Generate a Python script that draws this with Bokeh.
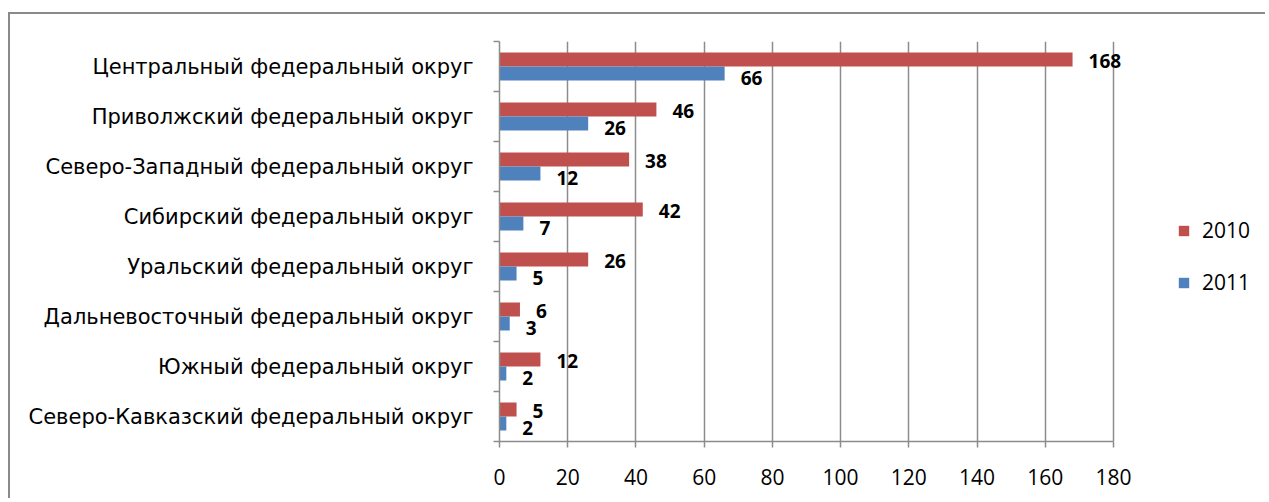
from bokeh.plotting import figure
from bokeh.models import (ColumnDataSource, Range1d, FixedTicker, Legend, LegendItem)
from bokeh.core.properties import value
from bokeh.embed import file_html
from bokeh.resources import INLINE

categories = [
    "Центральный федеральный округ",
    "Приволжский федеральный округ",
    "Северо-Западный федеральный округ",
    "Сибирский федеральный округ",
    "Уральский федеральный округ",
    "Дальневосточный федеральный округ",
    "Южный федеральный округ",
    "Северо-Кавказский федеральный округ",
]
values_2010 = [168, 46, 38, 42, 26, 6, 12, 5]
values_2011 = [66, 26, 12, 7, 5, 3, 2, 2]
series_names = ["2010", "2011"]
x_ticks = [0, 20, 40, 60, 80, 100, 120, 140, 160, 180]

RED = "#C0504D"
BLUE = "#4F81BD"
GRID = "#8c8c8c"
FONT = "Open Sans"
CAT_FONT = "DejaVu Sans"

n = len(categories)
centers = [n - i - 0.5 for i in range(n)]
bar_h = 0.28
y_red = [c + bar_h / 2 for c in centers]
y_blue = [c - bar_h / 2 for c in centers]

src_red = ColumnDataSource(dict(y=y_red, v=values_2010, t=[str(v) for v in values_2010]))
src_blue = ColumnDataSource(dict(y=y_blue, v=values_2011, t=[str(v) for v in values_2011]))

# layout (pixels)
W, H = 1257, 486
LEFT, TOP, BOTTOM = 489, 27, 59
AXIS_PX = 614                      # pixel length of the 0..180 axis
frame_w = W - LEFT
x_max = x_ticks[-1]
x_view_max = x_max * frame_w / AXIS_PX   # frame extends right so legend/labels are not clipped

p = figure(width=W, height=H, output_backend="svg", toolbar_location=None,
           x_range=Range1d(0, x_view_max), y_range=Range1d(0, n),
           min_border_left=LEFT, min_border_top=TOP, min_border_right=0,
           min_border_bottom=BOTTOM)
p.styles = {"border-top": "2px solid #8a8a8a", "border-left": "2px solid #8a8a8a",
            "margin-top": "12px", "margin-left": "8px"}
p.outline_line_color = None
p.background_fill_color = "white"
p.border_fill_color = "white"

r_red = p.hbar(y="y", right="v", left=0, height=bar_h, source=src_red,
               fill_color=RED, line_color=None)
r_blue = p.hbar(y="y", right="v", left=0, height=bar_h, source=src_blue,
                fill_color=BLUE, line_color=None)

p.text(x="v", y="y", text="t", source=src_red, x_offset=16, y_offset=1,
       text_align="left", text_baseline="middle", text_font=value(FONT),
       text_font_style="bold", text_font_size="19px", text_color="black")
p.text(x="v", y="y", text="t", source=src_blue, x_offset=16, y_offset=4,
       text_align="left", text_baseline="middle", text_font=value(FONT),
       text_font_style="bold", text_font_size="19px", text_color="black")

# x axis
xa = p.xaxis[0]
xa.ticker = FixedTicker(ticks=x_ticks, minor_ticks=[])
xa.bounds = (0, x_max)
xa.axis_line_color = GRID
xa.axis_line_width = 1.5
xa.major_tick_line_color = GRID
xa.major_tick_line_width = 1.5
xa.major_tick_in = 0
xa.major_tick_out = 6
xa.minor_tick_line_color = None
xa.major_label_standoff = 21
xa.major_label_text_font = FONT
xa.major_label_text_font_size = "21px"
xa.major_label_text_color = "black"

# y axis
ya = p.yaxis[0]
ya.ticker = FixedTicker(ticks=centers, minor_ticks=[float(i) for i in range(n + 1)])
ya.major_label_overrides = {c: cat for c, cat in zip(centers, categories)}
ya.axis_line_color = GRID
ya.axis_line_width = 1.5
ya.major_tick_line_color = None
ya.major_tick_in = 0
ya.major_tick_out = 0
ya.minor_tick_line_color = GRID
ya.minor_tick_line_width = 1.5
ya.minor_tick_in = 0
ya.minor_tick_out = 6
ya.major_label_standoff = 20
ya.major_label_text_font = CAT_FONT
ya.major_label_text_font_size = "21px"
ya.major_label_text_color = "black"

p.xgrid.ticker = FixedTicker(ticks=x_ticks, minor_ticks=[])
p.xgrid.grid_line_color = GRID
p.xgrid.grid_line_width = 1.5
p.ygrid.grid_line_color = None

legend = Legend(items=[LegendItem(label=series_names[0], renderers=[r_red]),
                       LegendItem(label=series_names[1], renderers=[r_blue])],
                location=(678, 145), orientation="vertical")
legend.glyph_width = 13
legend.glyph_height = 13
legend.label_height = 24
legend.spacing = 24
legend.padding = 0
legend.margin = 0
legend.label_standoff = 12
legend.label_text_font = FONT
legend.label_text_font_size = "21px"
legend.label_text_color = "black"
legend.border_line_color = None
legend.background_fill_alpha = 0
p.add_layout(legend)

open("out.html", "w").write(file_html(p, INLINE))
